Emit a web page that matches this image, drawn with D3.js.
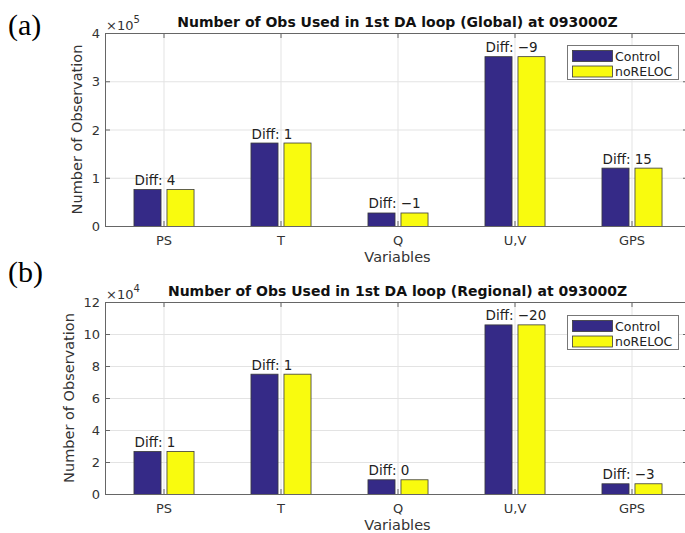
<!DOCTYPE html>
<html>
  <head>
    <meta charset="UTF-8">
    <title>Number of Obs Used in 1st DA loop</title>
    <style>
    body { margin: 0; background: #fff; }
    svg { display: block; font-family: "DejaVu Sans", sans-serif; }
    .grid line { stroke: #e3e3e3; stroke-width: 1px; }
    .tick-label { font-size: 13px; fill: #333; }
    .legend-label { font-size: 12.5px; fill: #222; }
    .axis-label { font-size: 14.5px; fill: #333; }
    .title { font-size: 14px; font-weight: bold; fill: #111; }
    .diff { font-size: 13.5px; fill: #222; }
    .panel-tag { font-family: "Liberation Serif", serif; font-size: 30px; fill: #000; }
    </style>
  </head>
  <body>
    <svg width="685" height="533"></svg>
    <script src="https://d3js.org/d3.v7.min.js"></script>
    <script>
// categories shared by both panels
var variables = ["PS", "T", "Q", "U,V", "GPS"];
var seriesNames = ["Control", "noRELOC"];
var seriesColors = ["#352a87", "#f9fb0e"];

// (a) global
var globalControl = [76700, 173000, 28000, 352000, 121000];
var globalNoReloc = [76696, 172999, 28001, 352009, 120985];
var globalDiff = ["4", "1", "\u22121", "\u22129", "15"];
var globalTicks = [0, 1, 2, 3, 4];

// (b) regional
var regionalControl = [26900, 75200, 9200, 106000, 6700];
var regionalNoReloc = [26899, 75199, 9200, 106020, 6703];
var regionalDiff = ["1", "1", "0", "\u221220", "\u22123"];
var regionalTicks = [0, 2, 4, 6, 8, 10, 12];

var svg = d3.select("svg");

var panels = [
  {tag: "(a)", tagY: 35, title: "Number of Obs Used in 1st DA loop (Global) at 093000Z",
   top: 33, bottom: 226, exp: 5, ticks: globalTicks, ylabX: 77,
   control: globalControl, noreloc: globalNoReloc, diff: globalDiff, legendY: 45},
  {tag: "(b)", tagY: 282, title: "Number of Obs Used in 1st DA loop (Regional) at 093000Z",
   top: 302, bottom: 494, exp: 4, ticks: regionalTicks, ylabX: 69,
   control: regionalControl, noreloc: regionalNoReloc, diff: regionalDiff, legendY: 315}
];

var left = 105, right = 690;

panels.forEach(p => {
  var g = svg.append("g");
  var scale = Math.pow(10, p.exp);

  var x = d3.scaleBand().domain(variables).range([left, right]);
  var y = d3.scaleLinear().domain([0, d3.max(p.ticks)]).range([p.bottom, p.top]);
  var sub = d3.scaleBand().domain(seriesNames).range([-33, 33]).paddingInner(0.18).paddingOuter(0.09);
  var cx = d => x(d) + x.bandwidth() / 2;

  // grid
  var grid = g.append("g").attr("class", "grid");
  grid.selectAll("line.h").data(p.ticks.slice(1, -1)).join("line")
      .attr("x1", left).attr("x2", right)
      .attr("y1", d => y(d) + 0.5).attr("y2", d => y(d) + 0.5);
  grid.selectAll("line.v").data(variables).join("line")
      .attr("x1", d => cx(d) + 0.5).attr("x2", d => cx(d) + 0.5)
      .attr("y1", p.top).attr("y2", p.bottom);

  // bars
  var rows = variables.map((v, i) => ({v: v, vals: [p.control[i], p.noreloc[i]], diff: p.diff[i]}));
  var groups = g.selectAll("g.cat").data(rows).join("g")
      .attr("transform", d => "translate(" + cx(d.v) + ",0)");
  groups.selectAll("rect").data(d => d.vals.map((val, k) => ({name: seriesNames[k], val: val, k: k}))).join("rect")
      .attr("x", d => sub(d.name) + 0.5)
      .attr("width", sub.bandwidth())
      .attr("y", d => y(d.val / scale) + 0.5)
      .attr("height", d => p.bottom - y(d.val / scale))
      .attr("fill", d => seriesColors[d.k])
      .attr("stroke", "#3a3a3a")
      .attr("stroke-width", 0.8);

  // diff labels
  groups.append("text").attr("class", "diff")
      .attr("x", sub(seriesNames[0]) + 1)
      .attr("y", d => y(d3.max(d.vals) / scale) - 4)
      .text(d => "Diff: " + d.diff);

  // axes box
  g.append("rect")
      .attr("x", left + 0.5).attr("y", p.top + 0.5)
      .attr("width", right - left).attr("height", p.bottom - p.top)
      .attr("fill", "none").attr("stroke", "#666").attr("stroke-width", 1);

  // y ticks (inward both sides)
  var yt = g.selectAll("g.ytick").data(p.ticks).join("g")
      .attr("transform", d => "translate(0," + (y(d) + 0.5) + ")");
  yt.append("line").attr("x1", left).attr("x2", left + 5).attr("stroke", "#666");
  yt.append("line").attr("x1", right - 7).attr("x2", right).attr("stroke", "#666");
  yt.append("text").attr("class", "tick-label")
      .attr("x", left - 5).attr("dy", "0.36em").attr("text-anchor", "end")
      .text(d => d);

  // x ticks
  var xt = g.selectAll("g.xtick").data(variables).join("g")
      .attr("transform", d => "translate(" + (cx(d) + 0.5) + ",0)");
  xt.append("line").attr("y1", p.bottom).attr("y2", p.bottom - 5).attr("stroke", "#666");
  xt.append("line").attr("y1", p.top).attr("y2", p.top + 5).attr("stroke", "#666");
  xt.append("text").attr("class", "tick-label")
      .attr("y", p.bottom + 19).attr("text-anchor", "middle")
      .text(d => d);

  // exponent
  var ex = g.append("text").attr("class", "tick-label").attr("font-size", 12)
      .attr("x", left + 1).attr("y", p.top - 3);
  ex.append("tspan").text("\u00d710");
  ex.append("tspan").attr("dy", -7).attr("font-size", 10).text(p.exp);

  // labels
  g.append("text").attr("class", "axis-label")
      .attr("x", (left + right) / 2).attr("y", p.bottom + 36).attr("text-anchor", "middle")
      .text("Variables");
  g.append("text").attr("class", "axis-label")
      .attr("transform", "translate(" + p.ylabX + "," + ((p.top + p.bottom) / 2) + ") rotate(-90)")
      .attr("text-anchor", "middle").attr("dy", "0.35em")
      .text("Number of Observation");
  g.append("text").attr("class", "title")
      .attr("x", (left + right) / 2).attr("y", p.top - 6).attr("text-anchor", "middle")
      .text(p.title);
  g.append("text").attr("class", "panel-tag").attr("x", 8).attr("y", p.tagY).text(p.tag);

  // legend
  var lg = g.append("g").attr("transform", "translate(567," + p.legendY + ")");
  lg.append("rect").attr("x", 0.5).attr("y", 0.5).attr("width", 111).attr("height", 34)
      .attr("fill", "#fff").attr("stroke", "#777");
  seriesNames.forEach((name, k) => {
    lg.append("rect").attr("x", 5.5).attr("y", 5.5 + k * 15.5).attr("width", 40).attr("height", 11)
        .attr("fill", seriesColors[k]).attr("stroke", "#3a3a3a").attr("stroke-width", 0.8);
    lg.append("text").attr("class", "legend-label").attr("x", 48).attr("y", 11 + k * 15.5)
        .attr("dy", "0.36em").text(name);
  });
});
    </script>
  </body>
</html>
